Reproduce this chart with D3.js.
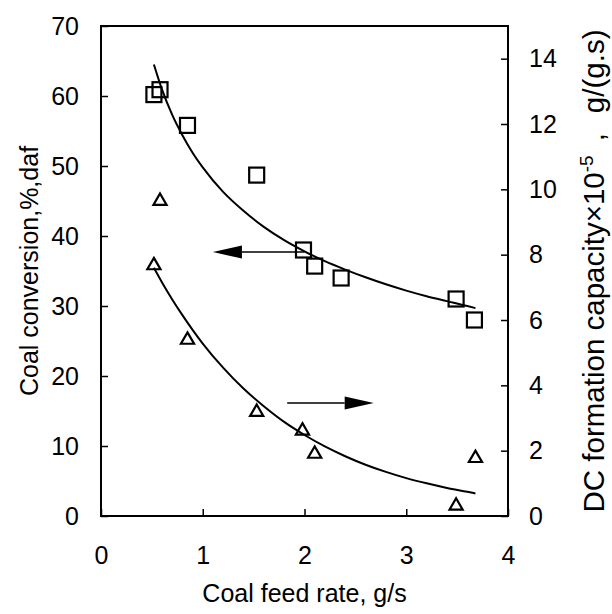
<!DOCTYPE html>
<html><head><meta charset="utf-8">
<script src="https://cdn.jsdelivr.net/npm/d3@7"></script>
<style>body{margin:0;background:#fff}svg{display:block}text{font-family:"Liberation Sans",Arial,sans-serif;fill:#000}</style>
</head><body><svg id="c" width="612" height="614"></svg>
<script>
// Coal conversion (left axis, squares)
const convX = [0.52, 0.58, 0.85, 1.53, 1.99, 2.10, 2.36, 3.49, 3.67];
const convY = [60.2, 60.9, 55.8, 48.7, 38.0, 35.7, 34.0, 31.0, 28.0];
// DC formation capacity (right axis, triangles)
const dcX = [0.52, 0.58, 0.85, 1.53, 1.98, 2.10, 3.49, 3.68];
const dcY = [7.7, 9.67, 5.42, 3.21, 2.64, 1.93, 0.34, 1.80];
// fitted curves
const fitX = [0.52, 0.6, 0.7, 0.8, 0.9, 1.0, 1.2, 1.4, 1.6, 1.8, 2.0, 2.2, 2.4, 2.6, 2.8, 3.0, 3.2, 3.4, 3.6, 3.68];
const convFit = [64.5, 60.9, 57.3, 54.4, 51.9, 49.8, 46.3, 43.6, 41.3, 39.4, 37.8, 36.4, 35.2, 34.1, 33.1, 32.2, 31.4, 30.7, 30.0, 29.7];
const dcFit = [7.6, 7.15, 6.63, 6.15, 5.70, 5.28, 4.54, 3.90, 3.36, 2.88, 2.48, 2.13, 1.83, 1.57, 1.35, 1.16, 1.00, 0.86, 0.74, 0.69];
const xTicks = [0, 1, 2, 3, 4];
const leftTicks = [0, 10, 20, 30, 40, 50, 60, 70];
const rightTicks = [0, 2, 4, 6, 8, 10, 12, 14];
// arrows: [x0, x1, y] tail -> tip
const arrowLeft = [2.0, 1.1, 37.7];   // left axis units
const arrowRight = [1.83, 2.68, 3.46]; // right axis units

const svg = d3.select("#c");
const L = 101, R = 508, T = 26, B = 516;
const x = d3.scaleLinear().domain([0, 4]).range([L, R]);
const yL = d3.scaleLinear().domain([0, 70]).range([B, T]);
const yR = d3.scaleLinear().domain([0, 15]).range([B, T]);
const fs = 25;

// frame
svg.append("rect").attr("x", L).attr("y", T).attr("width", R - L).attr("height", B - T)
  .attr("fill", "none").attr("stroke", "#000").attr("stroke-width", 2);

// axes with inward ticks
const gx = svg.append("g").attr("transform", `translate(0,${B})`)
  .call(d3.axisBottom(x).tickValues(xTicks).tickSizeInner(-7).tickSizeOuter(0).tickPadding(30).tickFormat(d3.format("d")));
const gl = svg.append("g").attr("transform", `translate(${L},0)`)
  .call(d3.axisLeft(yL).tickValues(leftTicks).tickSizeInner(-7).tickSizeOuter(0).tickPadding(22).tickFormat(d3.format("d")));
const gr = svg.append("g").attr("transform", `translate(${R},0)`)
  .call(d3.axisRight(yR).tickValues(rightTicks).tickSizeInner(-7).tickSizeOuter(0).tickPadding(21).tickFormat(d3.format("d")));
[gx, gl, gr].forEach(g => {
  g.select(".domain").remove();
  g.selectAll(".tick line").attr("stroke", "#000").attr("stroke-width", 1.5);
  g.selectAll("text").attr("font-size", fs).attr("font-family", '"Liberation Sans",Arial,sans-serif').attr("fill", "#000");
});

// curves
const lineL = d3.line().x((d, i) => x(fitX[i])).y(d => yL(d)).curve(d3.curveMonotoneX);
const lineR = d3.line().x((d, i) => x(fitX[i])).y(d => yR(d)).curve(d3.curveMonotoneX);
svg.append("path").attr("d", lineL(convFit)).attr("fill", "none").attr("stroke", "#000").attr("stroke-width", 2);
svg.append("path").attr("d", lineR(dcFit)).attr("fill", "none").attr("stroke", "#000").attr("stroke-width", 2);

// squares
const sq = 15;
svg.append("g").selectAll("rect").data(convX).join("rect")
  .attr("x", (d) => x(d) - sq / 2).attr("y", (d, i) => yL(convY[i]) - sq / 2)
  .attr("width", sq).attr("height", sq).attr("fill", "none").attr("stroke", "#000").attr("stroke-width", 2.2);
// triangles
const tri = d3.symbol().type(d3.symbolTriangle).size(75);
svg.append("g").selectAll("path").data(dcX).join("path")
  .attr("transform", (d, i) => `translate(${x(d)},${yR(dcY[i]) + 1})`)
  .attr("d", tri).attr("fill", "none").attr("stroke", "#000").attr("stroke-width", 2.2);

// arrows
function arrow(x0, x1, yy) {
  const dir = Math.sign(x1 - x0), hl = 29, hw = 6.5;
  svg.append("line").attr("x1", x0).attr("x2", x1 - dir * hl).attr("y1", yy).attr("y2", yy)
    .attr("stroke", "#000").attr("stroke-width", 1.5);
  svg.append("path").attr("d", `M${x1},${yy}L${x1 - dir * hl},${yy - hw}L${x1 - dir * hl},${yy + hw}Z`).attr("fill", "#000");
}
arrow(x(arrowLeft[0]), x(arrowLeft[1]), yL(arrowLeft[2]));
arrow(x(arrowRight[0]), x(arrowRight[1]), yR(arrowRight[2]));

// titles
svg.append("text").attr("x", (L + R) / 2).attr("y", 602).attr("text-anchor", "middle").attr("font-size", fs)
  .text("Coal feed rate, g/s");
svg.append("text").attr("transform", `translate(38,${(T + B) / 2}) rotate(-90)`).attr("text-anchor", "middle").attr("font-size", fs)
  .text("Coal conversion,%,daf");
const rt = svg.append("text").attr("transform", `translate(604,271) rotate(-90)`).attr("text-anchor", "middle").attr("font-size", 29.5);
rt.append("tspan").text("DC formation capacity\u00d710");
rt.append("tspan").attr("dy", -11).attr("font-size", 19).text("-5");
rt.append("tspan").attr("dy", 11).attr("dx", 14).text(",");
rt.append("tspan").attr("dx", 20).text("g/(g.s)");
</script></body></html>
